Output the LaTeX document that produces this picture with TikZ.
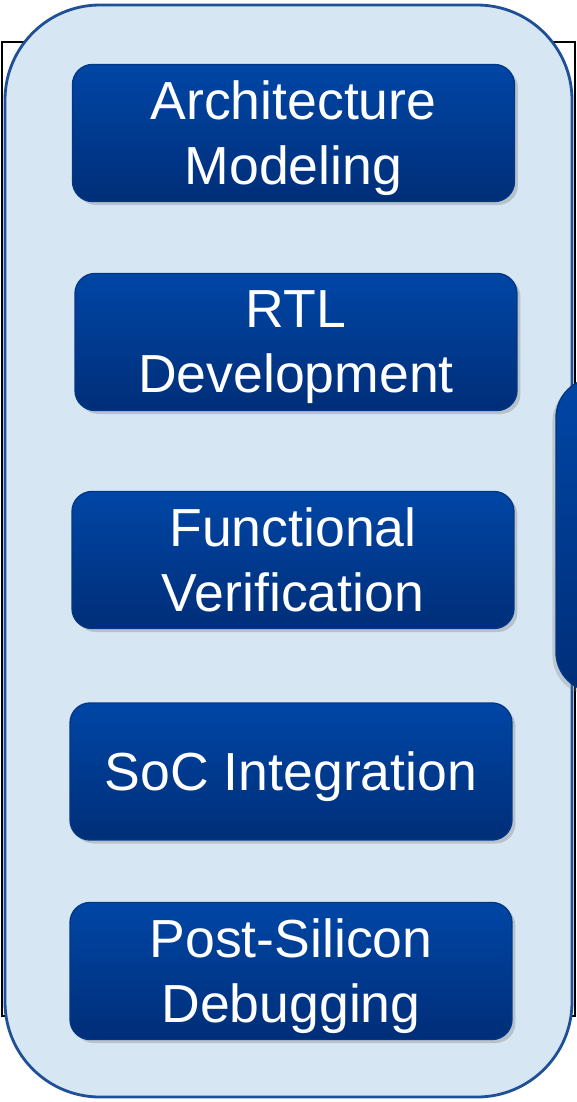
\documentclass[tikz,border=0pt]{standalone}
\usepackage{fontspec}
\setmainfont{Liberation Sans}
\usetikzlibrary{shadows}

\definecolor{paneFill}{HTML}{D6E6F2}
\definecolor{paneLine}{HTML}{1F4F96}
\definecolor{stepTop}{HTML}{0046A6}
\definecolor{stepBottom}{HTML}{002E78}

\begin{document}
\begin{tikzpicture}[
        x=0.02cm, y=-0.02cm,
        pane/.style={draw=paneLine, line width=1.6pt, fill=paneFill, rounded corners=1.9cm},
        stepbox/.style={draw=stepTop!80!black, line width=0.8pt, rounded corners=0.4cm,
            top color=stepTop, bottom color=stepBottom,
            drop shadow={shadow xshift=2pt, shadow yshift=-2pt, opacity=0.35},
            minimum width=8.84cm, minimum height=2.74cm,
            text=white, align=center, font=\fontsize{30.5}{37}\selectfont,
            text depth=0pt},
        sidebox/.style={draw=stepTop!80!black, line width=0.8pt, rounded corners=0.8cm,
            top color=stepTop, bottom color=stepBottom,
            drop shadow={shadow xshift=-2pt, shadow yshift=-2pt, opacity=0.3}}
    ]

    % --- Frame of the page behind ---
    \useasboundingbox (0,0) rectangle (577,1102);
    \draw[line width=0.8pt] (2,42) rectangle (575,1016);

    % --- Container ---
    \draw[pane] (5,5) rectangle (572,1097);

    % --- Partial box on the right ---
    \begin{scope}
        \clip (0,0) rectangle (577,1102);
        \draw[sidebox] (556,378) rectangle (660,692);
    \end{scope}

    % --- Steps ---
    \node[stepbox] (arch) at (293.5,133) {Architecture\\Modeling};
    \node[stepbox] (rtl) at (296,342) {RTL\\Development};
    \node[stepbox] (verif) at (293,560) {Functional\\Verification};
    \node[stepbox] (soc) at (291,771.5) {SoC Integration};
    \node[stepbox] (debug) at (291,971) {Post-Silicon\\Debugging};

\end{tikzpicture}
\end{document}
